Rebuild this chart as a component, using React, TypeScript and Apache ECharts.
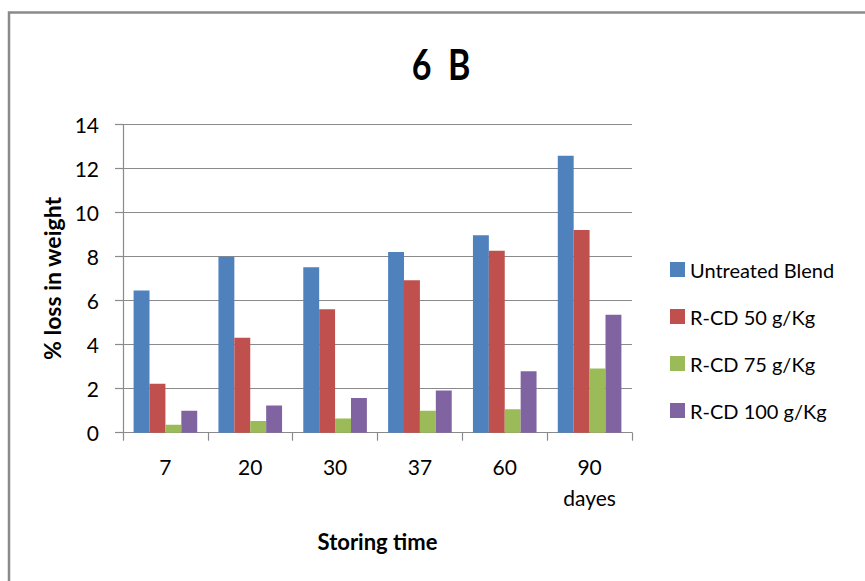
import React, { useEffect, useRef } from 'react';
import * as echarts from 'echarts';

const categories = ['7', '20', '30', '37', '60', '90\ndayes'];
const seriesNames = ['Untreated Blend', 'R-CD 50 g/Kg', 'R-CD 75 g/Kg', 'R-CD 100 g/Kg'];
const untreated = [6.46, 7.99, 7.51, 8.2, 8.96, 12.57];
const rcd50 = [2.22, 4.31, 5.6, 6.92, 8.26, 9.2];
const rcd75 = [0.36, 0.53, 0.65, 1.0, 1.06, 2.92];
const rcd100 = [1.0, 1.24, 1.57, 1.92, 2.79, 5.36];
const colors = ['#4F81BD', '#C0504D', '#9BBB59', '#8064A2'];
const yMin = 0;
const yMax = 14;
const yInterval = 2;

const FONT = 'Lato, "Open Sans", sans-serif';

export default function App() {
  const ref = useRef<HTMLDivElement>(null);
  useEffect(() => {
    document.body.style.margin = '0';
    if (!ref.current) return;
    const chart = echarts.init(ref.current, null, { renderer: 'svg' });
    const data = [untreated, rcd50, rcd75, rcd100];
    chart.setOption({
      animation: false,
      backgroundColor: '#ffffff',
      color: colors,
      textStyle: { fontFamily: FONT },
      graphic: [
        {
          type: 'rect',
          shape: { x: 9, y: 12.5, width: 900, height: 600 },
          style: { fill: 'none', stroke: '#8a8a8a', lineWidth: 2.5 },
          silent: true,
        },
        {
          type: 'text',
          x: 441,
          y: 63,
          scaleY: 1.25,
          style: {
            text: '6  B',
            fontFamily: FONT,
            fontWeight: 'bold',
            fontSize: 34,
            fill: '#000',
            align: 'center',
            verticalAlign: 'middle',
          },
        },
      ],
      grid: { left: 123, top: 124.3, right: 233, bottom: 148.3, containLabel: false },
      legend: {
        orient: 'vertical',
        left: 670,
        top: 259,
        padding: 0,
        itemWidth: 15,
        itemHeight: 15,
        itemGap: 26,
        icon: 'rect',
        textStyle: { fontSize: 20, lineHeight: 21, color: '#000', fontFamily: FONT },
        data: seriesNames,
      },
      xAxis: {
        type: 'category',
        data: categories,
        name: 'Storing time',
        nameLocation: 'middle',
        nameGap: 98,
        nameTextStyle: { fontSize: 22, fontWeight: 'bold', color: '#000', fontFamily: FONT },
        axisLine: { show: true, lineStyle: { color: '#8a8a8a', width: 1.2 } },
        axisTick: { show: true, length: 8, alignWithLabel: false, lineStyle: { color: '#8a8a8a', width: 1.2 } },
        axisLabel: { fontSize: 21, lineHeight: 31, margin: 18, color: '#000', fontFamily: FONT },
        splitLine: { show: false },
      },
      yAxis: {
        type: 'value',
        min: yMin,
        max: yMax,
        interval: yInterval,
        name: '% loss in weight',
        nameLocation: 'middle',
        nameGap: 60,
        nameRotate: 90,
        nameTextStyle: { fontSize: 23, fontWeight: 'bold', color: '#000', fontFamily: FONT },
        axisLine: { show: true, lineStyle: { color: '#8a8a8a', width: 1.2 } },
        axisTick: { show: true, length: 8, lineStyle: { color: '#8a8a8a', width: 1.2 } },
        axisLabel: { fontSize: 21, margin: 24, color: '#000', fontFamily: FONT },
        splitLine: { show: true, lineStyle: { color: '#8a8a8a', width: 1.2 } },
      },
      series: seriesNames.map((name, i) => ({
        name,
        type: 'bar',
        data: data[i],
        barGap: '0%',
        barCategoryGap: '25%',
        itemStyle: { color: colors[i] },
      })),
    });
    return () => chart.dispose();
  }, []);
  return <div ref={ref} style={{ width: 865, height: 581 }} />;
}
